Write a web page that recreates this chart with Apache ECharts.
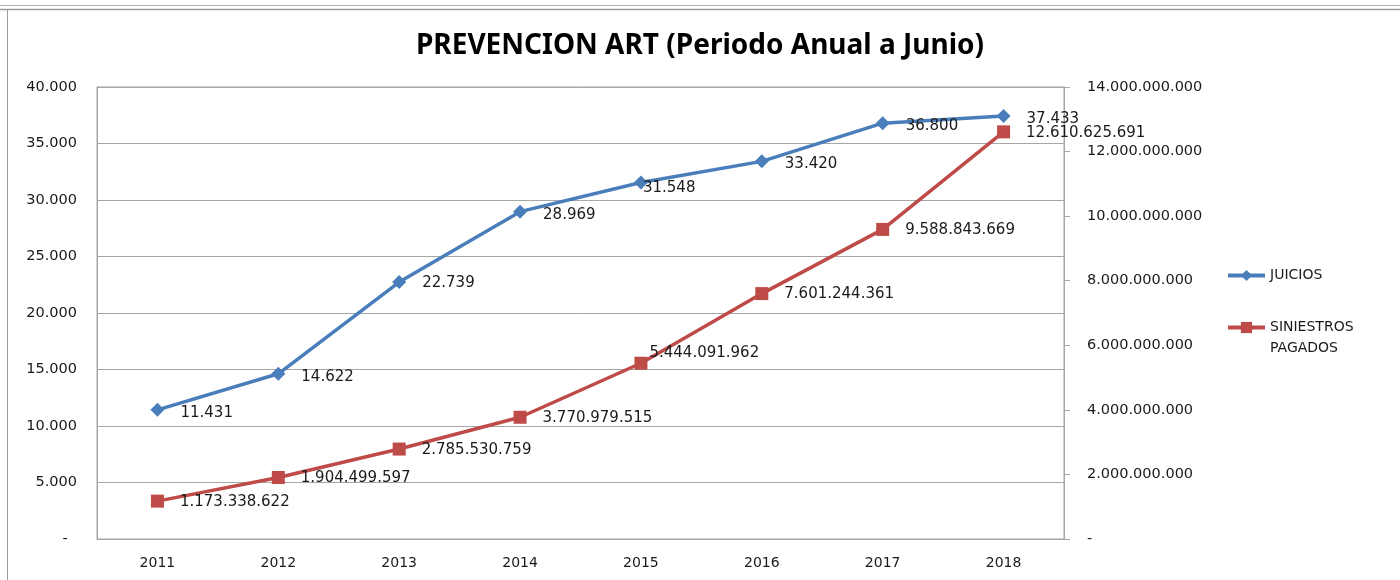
<!DOCTYPE html>
<html>
<head>
<meta charset="utf-8">
<script src="https://cdn.jsdelivr.net/npm/echarts@6/dist/echarts.min.js"></script>
<style>
html,body{margin:0;padding:0;background:#fff;}
#c{width:1400px;height:580px;}
</style>
</head>
<body>
<div id="c"></div>
<script>
var years = ['2011','2012','2013','2014','2015','2016','2017','2018'];
var juicios = [11431, 14622, 22739, 28969, 31548, 33420, 36800, 37433];
var siniestros = [1173338622, 1904499597, 2785530759, 3770979515, 5444091962, 7601244361, 9588843669, 12610625691];
var seriesNames = ['JUICIOS', 'SINIESTROS PAGADOS'];
var titleText = 'PREVENCION ART (Periodo Anual a Junio)';

function fmt(v) {
  return Math.round(v).toString().replace(/\B(?=(\d{3})+(?!\d))/g, '.');
}

// label nudges (style only)
var blueOffsets = {2: [0, 1], 4: [-21, 6]};
var redOffsets = {4: [-14, -10]};

function build(values, offsets, baseOffset) {
  return values.map(function (v, i) {
    var o = offsets[i] || baseOffset;
    return {value: v, label: {offset: o}};
  });
}

var labelFont = {fontFamily: 'DejaVu Sans', fontSize: 15, color: '#1a1a1a'};
var gray = '#a6a6a6';

var chart = echarts.init(document.getElementById('c'));
chart.setOption({
  animation: false,
  backgroundColor: '#fff',
  title: {
    text: titleText,
    left: 'center',
    top: 27,
    textStyle: {fontFamily: 'Noto Sans', fontWeight: 'bold', fontSize: 28, color: '#000'}
  },
  graphic: [
    {type: 'line', shape: {x1: 0, y1: 5.5, x2: 1400, y2: 5.5}, style: {stroke: '#b0b0b0', lineWidth: 1}},
    {type: 'line', shape: {x1: 0, y1: 9.5, x2: 1400, y2: 9.5}, style: {stroke: '#9a9a9a', lineWidth: 1.5}},
    {type: 'line', shape: {x1: 7.5, y1: 10, x2: 7.5, y2: 580}, style: {stroke: '#9a9a9a', lineWidth: 1}}
  ],
  grid: {left: 97, right: 336, top: 87, bottom: 41, show: true, borderColor: gray, borderWidth: 1},
  legend: {
    orient: 'vertical',
    left: 1226,
    top: 265,
    padding: 0,
    itemWidth: 37,
    itemHeight: 14,
    itemGap: 10,
    lineStyle: {width: 4},
    textStyle: {fontFamily: 'DejaVu Sans', fontSize: 14, color: '#1a1a1a', lineHeight: 21},
    data: [seriesNames[0], seriesNames[1]],
    formatter: function (n) { return n.indexOf(' ') >= 0 ? '\n' + n.replace(' ', '\n') : n; }
  },
  xAxis: {
    type: 'category',
    data: years,
    boundaryGap: true,
    axisLine: {lineStyle: {color: gray}},
    axisTick: {show: false},
    axisLabel: {fontFamily: 'DejaVu Sans', fontSize: 14, color: '#1a1a1a', margin: 17}
  },
  yAxis: [
    {
      type: 'value', min: 0, max: 40000, interval: 5000,
      axisLine: {show: true, lineStyle: {color: gray}},
      axisTick: {show: false},
      splitLine: {lineStyle: {color: gray, width: 1}},
      axisLabel: {
        fontFamily: 'DejaVu Sans', fontSize: 14.5, color: '#1a1a1a', margin: 20,
        formatter: function (v) { return v === 0 ? '-  ' : fmt(v); }
      }
    },
    {
      type: 'value', min: 0, max: 14000000000, interval: 2000000000,
      position: 'right',
      axisLine: {show: true, lineStyle: {color: gray}},
      axisTick: {show: true, inside: false, length: 6, lineStyle: {color: gray}},
      splitLine: {show: false},
      axisLabel: {
        fontFamily: 'DejaVu Sans', fontSize: 14.5, color: '#1a1a1a', margin: 23,
        formatter: function (v) { return v === 0 ? '-' : fmt(v); }
      }
    }
  ],
  series: [
    {
      name: seriesNames[0],
      type: 'line',
      yAxisIndex: 0,
      data: build(juicios, blueOffsets, [0, 3]),
      symbol: 'diamond',
      symbolSize: 14,
      lineStyle: {color: '#4A7EBB', width: 3.5},
      itemStyle: {color: '#4A7EBB'},
      label: Object.assign({show: true, position: 'right', distance: 16, formatter: function (p) { return fmt(p.value); }}, labelFont),
      z: 3
    },
    {
      name: seriesNames[1],
      type: 'line',
      yAxisIndex: 1,
      data: build(siniestros, redOffsets, [0, 1]),
      symbol: 'rect',
      symbolSize: 13,
      lineStyle: {color: '#BE4B48', width: 3.5},
      itemStyle: {color: '#BE4B48'},
      label: Object.assign({show: true, position: 'right', distance: 16, formatter: function (p) { return fmt(p.value); }}, labelFont),
      z: 2
    }
  ]
});
</script>
</body>
</html>
